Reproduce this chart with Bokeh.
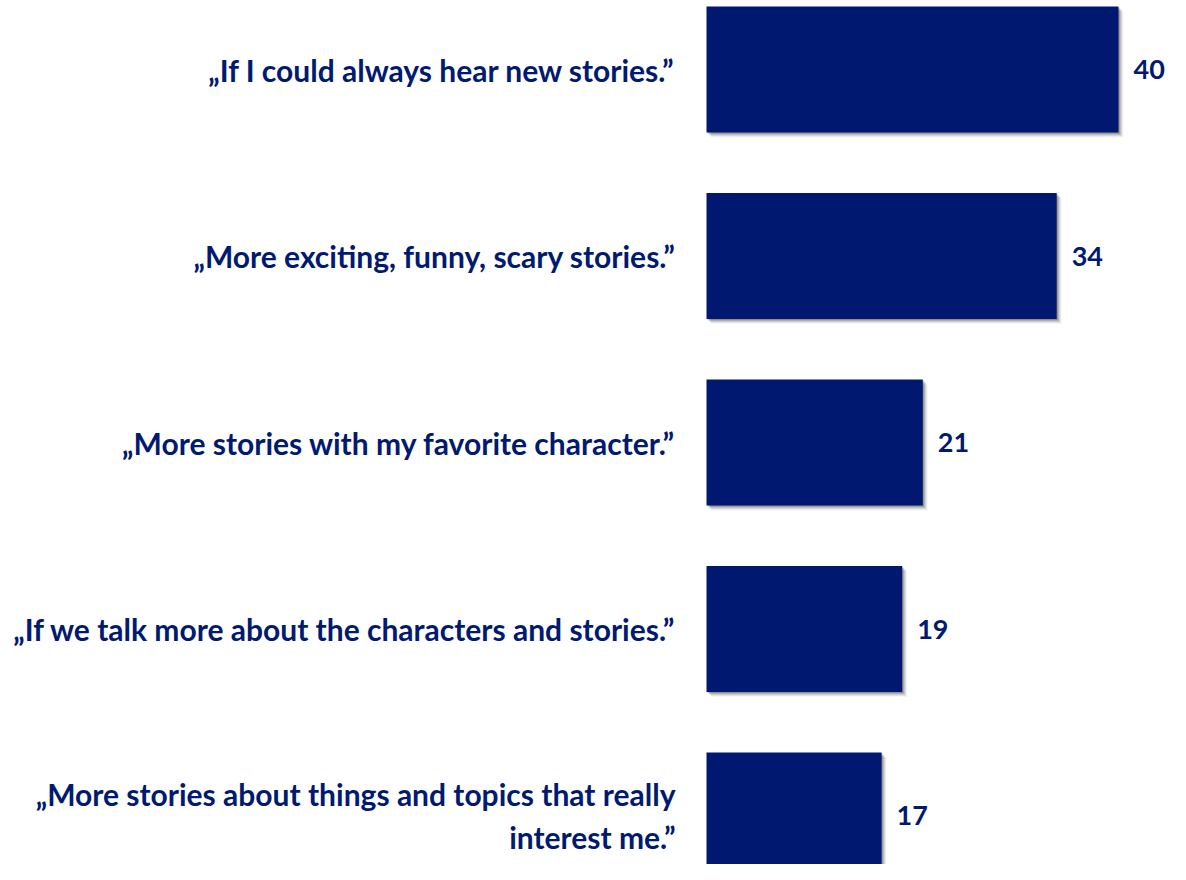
from bokeh.plotting import figure
from bokeh.models import Range1d, ColumnDataSource
from bokeh.core.properties import value
from bokeh.embed import file_html
from bokeh.resources import INLINE

categories = [
    "\u201eIf I could always hear new stories.\u201d",
    "\u201eMore exciting, funny, scary stories.\u201d",
    "\u201eMore stories with my favorite character.\u201d",
    "\u201eIf we talk more about the characters and stories.\u201d",
    "\u201eMore stories about things and topics that really\ninterest me.\u201d",
]
values = [40, 34, 21, 19, 17]

NAVY = "#001870"
TEXT = "#001A70"
FONT = "Lato"

PX_X = 10.3     # pixels per unit on x
PX_Y = 186.5    # pixels per category step
X0 = 706        # pixel where value 0 sits
Y0 = 69         # pixel of first category centre

W, H = 1170, 864

pos = list(range(len(categories)))
src = ColumnDataSource(dict(y=pos, v=values, cat=categories,
                            lbl=[str(v) for v in values], zero=[0] * len(values)))

p = figure(width=W, height=H, output_backend="svg", toolbar_location=None,
           x_range=Range1d(-X0 / PX_X, (W - X0) / PX_X),
           y_range=Range1d((H - Y0) / PX_Y, -Y0 / PX_Y),
           min_border=0, outline_line_color=None)
p.axis.visible = False
p.grid.visible = False
p.background_fill_color = "white"
p.border_fill_color = "white"

# soft shadow
for k, a in [(1, 0.18), (2, 0.14), (3, 0.10), (4, 0.07), (5, 0.04)]:
    dx = k / PX_X
    dy = k / PX_Y
    p.hbar(y=[yy + dy for yy in pos], left=[dx] * len(values),
           right=[v + dx for v in values], height=126 / PX_Y,
           fill_color="black", fill_alpha=a, line_color=None)

p.hbar(y="y", left="zero", right="v", height=126 / PX_Y, source=src,
       fill_color=NAVY, line_color=None)

p.text(x="zero", y="y", text="cat", source=src, x_offset=-31,
       text_align="right", text_baseline="middle",
       text_font=value(FONT), text_font_style="bold", text_font_size="30px",
       text_color=TEXT, text_line_height=1.2)

p.text(x="v", y="y", text="lbl", source=src, x_offset=15,
       text_align="left", text_baseline="middle",
       text_font=value(FONT), text_font_style="bold", text_font_size="27px",
       text_color=TEXT)

open("out.html", "w").write(file_html(p, INLINE))
